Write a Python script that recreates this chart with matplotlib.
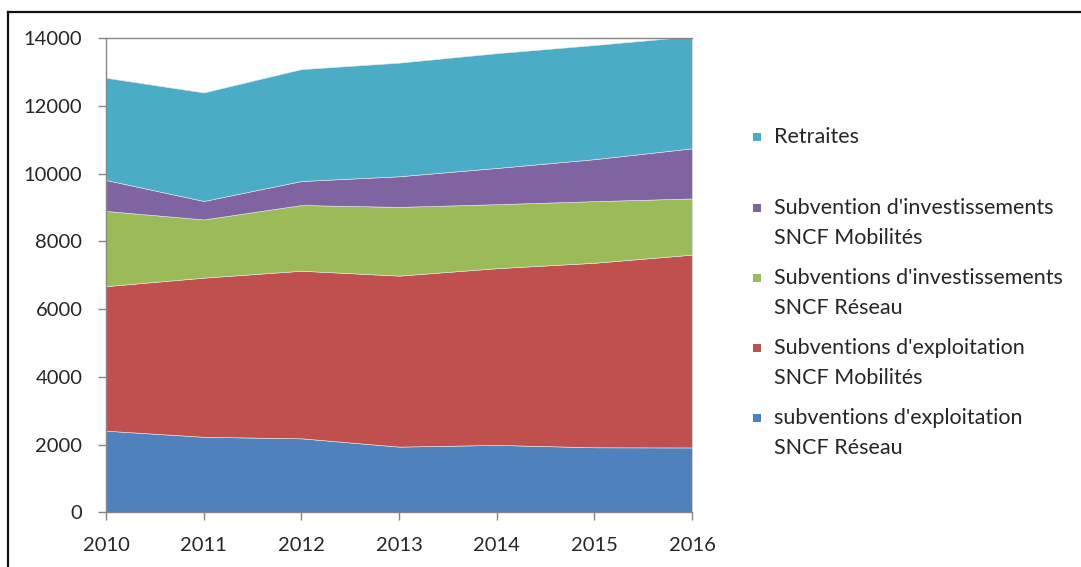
import numpy as np
import matplotlib
matplotlib.use("Agg")
from matplotlib import pyplot as plt
from matplotlib.lines import Line2D
from matplotlib.patches import Rectangle

# Données
annees = [2010, 2011, 2012, 2013, 2014, 2015, 2016]
expl_reseau = [2410, 2230, 2185, 1940, 1990, 1920, 1915]
expl_mobilites = [4270, 4700, 4950, 5050, 5220, 5450, 5695]
inv_reseau = [2220, 1720, 1940, 2030, 1890, 1820, 1660]
inv_mobilites = [915, 545, 710, 905, 1070, 1240, 1480]
retraites = [3020, 3205, 3305, 3355, 3390, 3370, 3310]

series = [expl_reseau, expl_mobilites, inv_reseau, inv_mobilites, retraites]
couleurs = ['#4F81BD', '#C0504D', '#9BBB59', '#8064A2', '#4BACC6']
labels = ["subventions d'exploitation\nSNCF Réseau",
          "Subventions d'exploitation\nSNCF Mobilités",
          "Subventions d'investissements\nSNCF Réseau",
          "Subvention d'investissements\nSNCF Mobilités",
          "Retraites"]
y_ticks = [0, 2000, 4000, 6000, 8000, 10000, 12000, 14000]

plt.rcParams['font.family'] = ['Lato', 'DejaVu Sans']
texte = '#262626'

W, H = 1081, 567
fig = plt.figure(figsize=(W / 100, H / 100), dpi=100)
ax = fig.add_axes([106 / W, 1 - 512.3 / H, (692 - 106) / W, (512.3 - 38.3) / H])

ax.stackplot(annees, *series, colors=couleurs, edgecolor='#e8e8e8', linewidth=0.4)

ax.set_xlim(2010, 2016)
ax.set_ylim(0, 14000)
ax.set_xticks(annees)
ax.set_yticks(y_ticks)
ax.tick_params(axis='both', labelsize=14.5, colors='#868686', labelcolor=texte,
               length=6, width=1, direction='out')
ax.tick_params(axis='y', pad=11)
ax.tick_params(axis='x', pad=12)
for cote in ['left', 'bottom', 'top']:
    ax.spines[cote].set_color('#868686')
    ax.spines[cote].set_linewidth(1)
ax.spines['right'].set_visible(False)

# Légende dessinée à la main (ordre inverse, comme Excel)
x_carre = 753 / W
x_texte = 774 / W
y_entrees = [137, 208, 278, 348, 418]
for i, (lab, col) in enumerate(zip(labels[::-1], couleurs[::-1])):
    yc = y_entrees[i]
    fig.patches.append(Rectangle((x_carre, 1 - (yc + 4) / H), 8 / W, 8 / H,
                                 transform=fig.transFigure, facecolor=col,
                                 edgecolor='none'))
    lignes = lab.split('\n')
    for j, ligne in enumerate(lignes):
        fig.text(x_texte, 1 - (yc + j * 29.5) / H, ligne, fontsize=15.5,
                 color=texte, va='center', ha='left')

# Cadre extérieur (haut et gauche)
fig.add_artist(Line2D([8 / W, 1], [1 - 11.7 / H, 1 - 11.7 / H],
                      transform=fig.transFigure, color='#111111', linewidth=1.6))
fig.add_artist(Line2D([8.3 / W, 8.3 / W], [0, 1 - 11.7 / H],
                      transform=fig.transFigure, color='#111111', linewidth=1.6))

fig.savefig('out.png', dpi=100)
